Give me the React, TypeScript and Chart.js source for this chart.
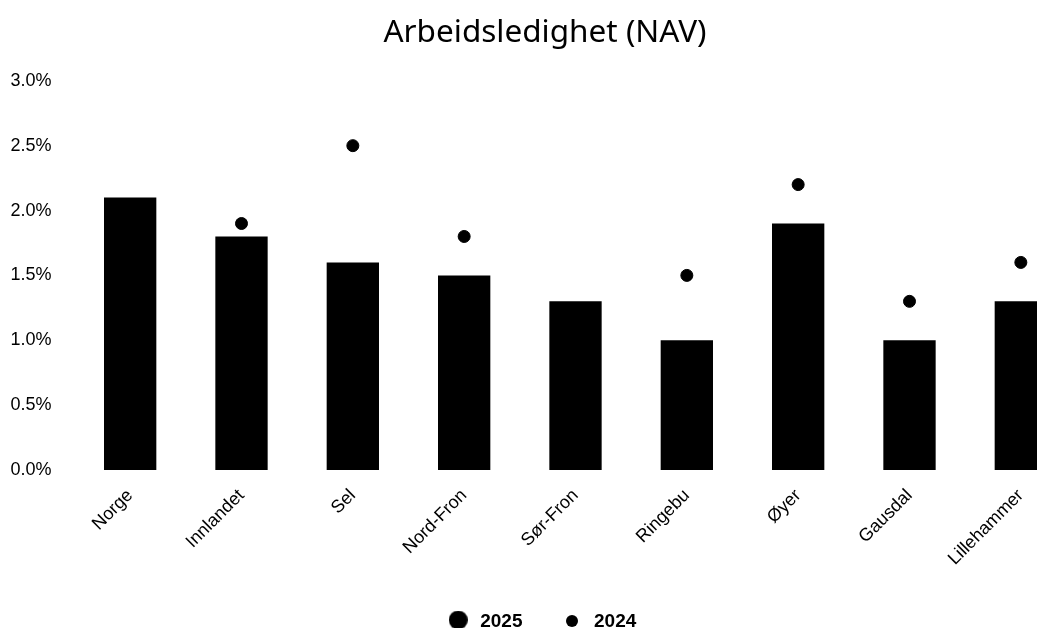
import React, { useEffect, useRef } from "react";
import { Chart, registerables } from "chart.js";

Chart.register(...registerables);

const categories = ["Norge", "Innlandet", "Sel", "Nord-Fron", "Sør-Fron", "Ringebu", "Øyer", "Gausdal", "Lillehammer"];
const values2025 = [2.1, 1.8, 1.6, 1.5, 1.3, 1.0, 1.9, 1.0, 1.3];
const values2024 = [null, 1.9, 2.5, 1.8, null, 1.5, 2.2, 1.3, 1.6];
const yTicks = [0, 0.5, 1.0, 1.5, 2.0, 2.5, 3.0];

function dot(diameter: number, lift: number): HTMLCanvasElement {
  const c = document.createElement("canvas");
  c.width = diameter;
  c.height = diameter + 2 * lift;
  const ctx = c.getContext("2d")!;
  ctx.fillStyle = "#000";
  ctx.beginPath();
  ctx.arc(diameter / 2, diameter / 2, diameter / 2, 0, Math.PI * 2);
  ctx.fill();
  return c;
}

const adjustLayout = {
  id: "adjustLayout",
  afterLayout(chart: any) {
    const y = chart.scales.y;
    if (y) y.left = 0;
    const lg = chart.legend;
    if (lg) {
      lg.left -= 4;
      lg.right -= 4;
    }
  },
};

export default function App() {
  const ref = useRef<HTMLCanvasElement | null>(null);
  useEffect(() => {
    if (!ref.current) return;
    const bigDot = dot(19, 1.5);
    const smallDot = dot(12, 0.5);
    const chart = new Chart(ref.current, {
      type: "bar",
      data: {
        labels: categories,
        datasets: [
          {
            type: "bar",
            label: "2025",
            data: values2025,
            backgroundColor: "#000",
            borderWidth: 0,
            barPercentage: 0.47,
            categoryPercentage: 1,
            order: 2,
          },
          {
            type: "line",
            label: "2024",
            data: values2024 as any,
            showLine: false,
            pointRadius: 6,
            pointHoverRadius: 6,
            pointBorderWidth: 1,
            pointBackgroundColor: "#000",
            pointBorderColor: "#000",
            backgroundColor: "#000",
            borderColor: "#000",
            order: 1,
          },
        ],
      },
      plugins: [adjustLayout],
      options: {
        responsive: false,
        animation: false,
        layout: { padding: { left: 13.5, right: 13.5, top: 0, bottom: -13 } },
        plugins: {
          title: {
            display: true,
            text: "Arbeidsledighet (NAV)",
            color: "#000",
            font: { family: "'Noto Sans'", size: 31.5, weight: 400 as any },
            padding: { top: 14, bottom: 29 },
          },
          legend: {
            position: "bottom",
            labels: {
              usePointStyle: true,
              pointStyleWidth: 25,
              color: "#000",
              font: { family: "'Liberation Sans', Arial", size: 19, weight: "bold" },
              padding: 37,
              generateLabels: (ch: any) =>
                ch.data.datasets.map((ds: any, i: number) => ({
                  text: ds.label,
                  fillStyle: "#000",
                  strokeStyle: "#000",
                  lineWidth: 0,
                  pointStyle: i === 0 ? bigDot : smallDot,
                  hidden: false,
                  datasetIndex: i,
                  fontColor: "#000",
                })),
            },
          },
          tooltip: { enabled: false },
        },
        scales: {
          x: {
            grid: { display: false, drawTicks: false },
            border: { display: false },
            afterFit: (s: any) => {
              s.height = 105;
            },
            ticks: {
              color: "#000",
              font: { family: "'Liberation Sans', Arial", size: 18 },
              maxRotation: 45,
              minRotation: 45,
              padding: 15,
            },
          },
          y: {
            min: 0,
            max: 3,
            afterFit: (s: any) => {
              s.width = 61;
            },
            afterBuildTicks: (s: any) => {
              s.ticks = yTicks.map((v) => ({ value: v }));
            },
            grid: { display: false, drawTicks: false },
            border: { display: false },
            ticks: {
              color: "#000",
              font: { family: "'Liberation Sans', Arial", size: 18 },
              padding: 23,
              callback: (v: any) => Number(v).toFixed(1) + "%",
            },
          },
        },
      },
    });
    return () => chart.destroy();
  }, []);
  return (
    <div style={{ position: "fixed", left: 0, top: 0, width: 1037, height: 628, overflow: "hidden", background: "#fff" }}>
      <canvas ref={ref} width={1090} height={628} style={{ display: "block" }} />
    </div>
  );
}
